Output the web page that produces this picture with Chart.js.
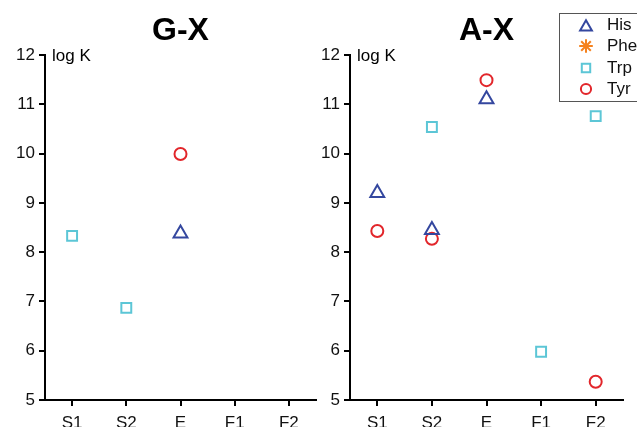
<!DOCTYPE html>
<html>
<head>
<meta charset="utf-8">
<script src="https://cdn.jsdelivr.net/npm/chart.js@4/dist/chart.umd.min.js"></script>
<style>
  html, body { margin: 0; padding: 0; background: #fff; overflow: hidden; }
  #wrap { position: relative; width: 637px; height: 427px; overflow: hidden; }
  #left { position: absolute; left: 0; top: 0; }
  #right { position: absolute; left: 300px; top: 0; }
</style>
</head>
<body>
<div id="wrap">
  <canvas id="left" width="320" height="427"></canvas>
  <canvas id="right" width="360" height="427"></canvas>
</div>
<script>
// categories and tick values
const categories = ['S1', 'S2', 'E', 'F1', 'F2'];
const yMin = 5;
const yMax = 12;

// G-X panel
const gxHis = [null, null, 8.38, null, null];
const gxPhe = [null, null, null, null, null];
const gxTrp = [8.33, 6.87, null, null, null];
const gxTyr = [null, null, 9.99, null, null];

// A-X panel
const axHis = [9.2, 8.45, 11.1, null, null];
const axPhe = [null, null, null, null, null];
const axTrp = [null, 10.54, null, 5.98, 10.76];
const axTyr = [8.43, 8.27, 11.49, null, 5.37];

const seriesNames = ['His', 'Phe', 'Trp', 'Tyr'];
const FONT = 'Liberation Sans, Arial, sans-serif';

function makeDatasets(his, phe, trp, tyr) {
    return [
        { label: 'His', data: his, pointStyle: 'triangle', radius: 8, borderColor: '#34479f' },
        { label: 'Phe', data: phe, pointStyle: 'star', radius: 8, borderColor: '#f5821f' },
        { label: 'Trp', data: trp, pointStyle: 'rect', radius: 7, borderColor: '#5cc6d6' },
        { label: 'Tyr', data: tyr, pointStyle: 'circle', radius: 6, borderColor: '#e2262b' }
    ].map(d => ({
        label: d.label,
        data: d.data,
        showLine: false,
        pointStyle: d.pointStyle,
        pointRadius: d.radius,
        pointBorderWidth: 2,
        pointBorderColor: d.borderColor,
        pointBackgroundColor: 'rgba(0,0,0,0)',
        borderColor: d.borderColor,
        backgroundColor: 'rgba(0,0,0,0)'
    }))
}

// panel title + "log K" label + optional framed legend
const panelText = {
    id: 'panelText',
    afterDraw(chart, args, opts) {
        const ctx = chart.ctx
        const area = chart.chartArea
        ctx.save()
        ctx.fillStyle = '#000'
        ctx.font = 'bold 32px ' + FONT
        ctx.textAlign = 'center'
        ctx.textBaseline = 'middle'
        ctx.fillText(opts.title, (area.left + area.right) / 2, 31)

        ctx.font = '17px ' + FONT
        ctx.textAlign = 'left'
        ctx.fillText('log K', area.left + 7, area.top + 1)

        if (opts.legend) {
            const lx = opts.legendX
            const ly = 13
            ctx.strokeStyle = '#555'
            ctx.lineWidth = 1
            ctx.strokeRect(lx + 0.5, ly + 0.5, 120, 88)
            const rows = [25, 46, 68, 89]
            chart.data.datasets.forEach((ds, i) => {
                const small = { pointStyle: ds.pointStyle, radius: ds.pointRadius * 0.85, rotation: 0, borderWidth: 2 }
                ctx.strokeStyle = ds.pointBorderColor
                ctx.fillStyle = 'rgba(0,0,0,0)'
                ctx.lineWidth = 2
                Chart.helpers.drawPoint(ctx, small, lx + 27, rows[i] + (ds.pointStyle === 'triangle' ? 2 : 0))
                ctx.fillStyle = '#111'
                ctx.font = '17px ' + FONT
                ctx.textBaseline = 'middle'
                ctx.fillText(seriesNames[i], lx + 48, rows[i])
            })
        }
        ctx.restore()
    }
}

function makeChart(canvas, datasets, yWidth, padRight, title, legend, legendX) {
    return new Chart(canvas.getContext('2d'), {
        type: 'line',
        data: { labels: categories, datasets: datasets },
        options: {
            responsive: false,
            animation: false,
            layout: { autoPadding: false, padding: { top: 55, left: 0, right: padRight, bottom: 0 } },
            plugins: {
                legend: { display: false },
                title: { display: false },
                tooltip: { enabled: false },
                panelText: { title: title, legend: legend, legendX: legendX }
            },
            scales: {
                x: {
                    type: 'category',
                    offset: true,
                    afterFit: s => { s.height = 27; s.paddingLeft = 0; s.paddingRight = 0 },
                    border: { display: true, color: '#000', width: 2 },
                    grid: { display: true, drawOnChartArea: false, drawTicks: true, tickLength: 6, color: '#000', lineWidth: 2 },
                    ticks: { color: '#111', padding: 7, font: { family: FONT, size: 17 }, maxRotation: 0 }
                },
                y: {
                    min: yMin,
                    max: yMax,
                    afterFit: s => { s.width = yWidth },
                    border: { display: true, color: '#000', width: 2 },
                    grid: { display: true, drawOnChartArea: false, drawTicks: true, tickLength: 6, color: '#000', lineWidth: 2 },
                    ticks: { stepSize: 1, color: '#111', padding: 4, font: { family: FONT, size: 17 } }
                }
            }
        },
        plugins: [panelText]
    })
}

makeChart(document.querySelector('#left'), makeDatasets(gxHis, gxPhe, gxTrp, gxTyr), 45, 4, 'G-X', false, 0)
makeChart(document.querySelector('#right'), makeDatasets(axHis, axPhe, axTrp, axTyr), 50, 37, 'A-X', true, 259)
</script>
</body>
</html>
